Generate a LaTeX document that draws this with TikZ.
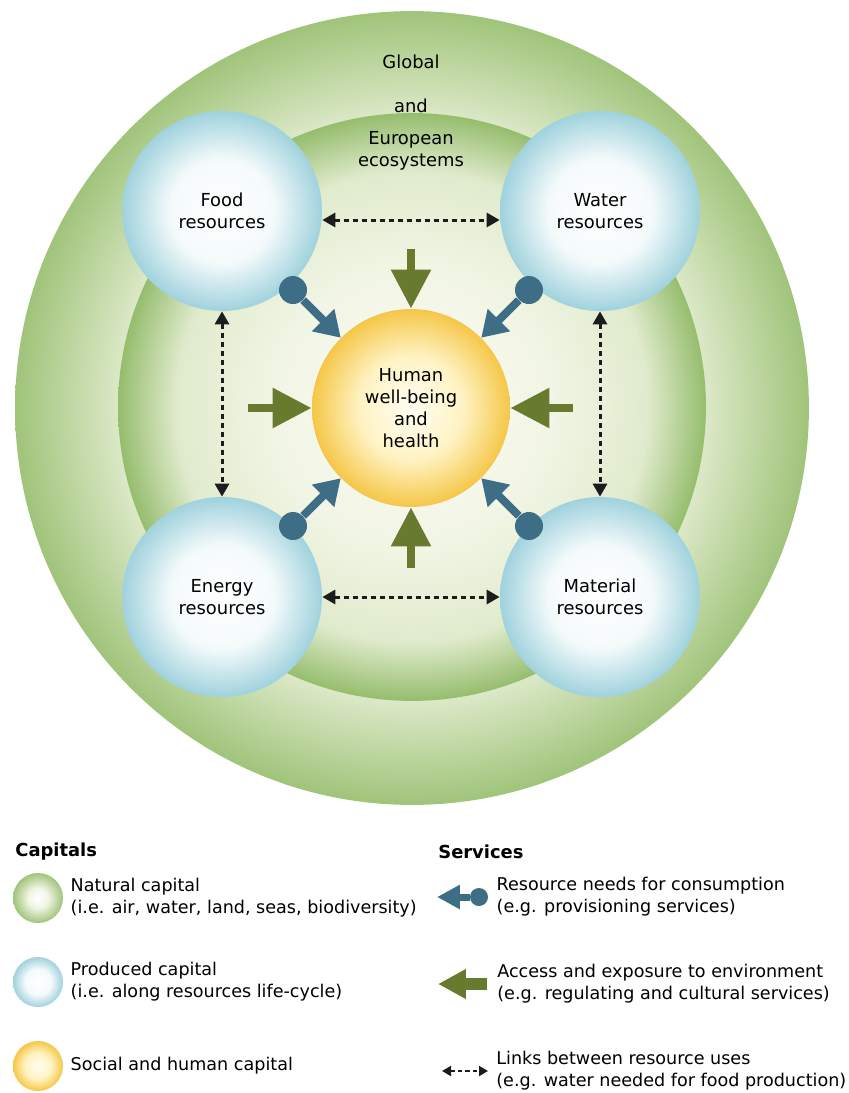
\documentclass[tikz,border=0pt]{standalone}
\usepackage{fontspec}
\setmainfont{DejaVu Sans}
\usetikzlibrary{arrows.meta, positioning}

\definecolor{ringgreen}{RGB}{160,196,122}
\definecolor{ringdark}{RGB}{150,189,110}
\definecolor{ringlight}{RGB}{224,235,205}
\definecolor{ringpale}{RGB}{241,245,228}
\definecolor{corewhite}{RGB}{252,252,245}
\definecolor{resblue}{RGB}{160,210,221}
\definecolor{reslight}{RGB}{244,250,251}
\definecolor{humyellow}{RGB}{245,199,72}
\definecolor{humlight}{RGB}{255,243,196}
\definecolor{humwhite}{RGB}{255,253,242}
\definecolor{needblue}{RGB}{62,110,133}
\definecolor{accessgreen}{RGB}{104,122,45}
\definecolor{linkgray}{RGB}{28,28,28}

\pgfdeclareradialshading{outerring}{\pgfpoint{0bp}{0bp}}{color(0bp)=(white); color(18bp)=(ringlight); color(25bp)=(ringgreen); color(50bp)=(ringgreen)}
\pgfdeclareradialshading{innerring}{\pgfpoint{0bp}{0bp}}{color(0bp)=(corewhite); color(12bp)=(ringpale); color(20bp)=(ringlight); color(25bp)=(ringdark); color(50bp)=(ringdark)}
\pgfdeclareradialshading{resshade}{\pgfpoint{0bp}{0bp}}{color(0bp)=(white); color(13bp)=(reslight); color(25bp)=(resblue); color(50bp)=(resblue)}
\pgfdeclareradialshading{hubshade}{\pgfpoint{0bp}{0bp}}{color(0bp)=(humwhite); color(13bp)=(humlight); color(25bp)=(humyellow); color(50bp)=(humyellow)}
\pgfdeclareradialshading{natshade}{\pgfpoint{0bp}{0bp}}{color(0bp)=(white); color(10bp)=(ringpale); color(25bp)=(ringgreen); color(50bp)=(ringgreen)}

\begin{document}
\begin{tikzpicture}[
    x=0.02cm, y=-0.02cm,
    font=\fontsize{10.2}{12.6}\selectfont,
    resource/.style={circle, minimum size=4cm, inner sep=0pt, shading=resshade, align=center},
    hub/.style={circle, minimum size=3.96cm, inner sep=0pt, shading=hubshade, align=center},
    ball/.style={circle, fill=needblue, minimum size=0.56cm, inner sep=0pt},
    need/.style={needblue, line width=0.16cm, -{Triangle[width=0.6cm, length=0.5cm]}},
    access/.style={accessgreen, line width=0.17cm, -{Triangle[width=0.76cm, length=0.78cm]}},
    link/.style={linkgray, line width=0.06cm, dash pattern=on 0.1cm off 0.08cm, {Triangle[width=0.28cm, length=0.26cm]}-{Triangle[width=0.28cm, length=0.26cm]}},
    key/.style={circle, minimum size=1cm, inner sep=0pt},
    keytext/.style={align=left, inner sep=0pt, font=\fontsize{10}{12.6}\selectfont}
]
\useasboundingbox (0,0) rectangle (849,1093);

% ecosystems (two rings)
\node[circle, minimum size=15.88cm, inner sep=0pt, shading=outerring] (world) at (412,408) {};
\node[circle, minimum size=11.76cm, inner sep=0pt, shading=innerring] (europe) at (412,407) {};
\node (global) at (411,62) {Global};
\node (and) at (411,106) {and};
\node[align=center] (eco) at (411,151) {European\\ecosystems};

% resources and human well-being
\node[resource] (food) at (222,211) {Food\\resources};
\node[resource] (water) at (600,211) {Water\\resources};
\node[resource] (energy) at (222,597) {Energy\\resources};
\node[resource] (material) at (600,597) {Material\\resources};
\node[hub] (hub) at (411,408) {Human\\well-being\\and\\health};

% links between resource uses
\draw[link] ([yshift=-0.18cm]food.east) -- ([yshift=-0.18cm]water.west);
\draw[link] (energy) -- (material);
\draw[link] (food) -- (energy);
\draw[link] (water) -- (material);

% resource needs
\node[ball] (foodball) at (293,290) {};
\node[ball] (waterball) at (529,290) {};
\node[ball] (energyball) at (293,526) {};
\node[ball] (materialball) at (529,526) {};
\foreach \b in {foodball, waterball, energyball, materialball}
    \draw[need] (\b) -- (hub);

% access and exposure
\coordinate (topin) at (411,249);
\coordinate (bottomin) at (411,568);
\coordinate (leftin) at (248,408);
\coordinate (rightin) at (573,408);
\foreach \c in {topin, bottomin, leftin, rightin}
    \draw[access] (\c) -- (hub);

% legend: capitals
\node[anchor=west, inner sep=0pt, font=\fontsize{10.2}{12.6}\selectfont\bfseries] (capitals) at (15,852) {Capitals};
\node[key, shading=natshade] (natkey) at (38,898) {};
\node[key, shading=resshade] (prodkey) at (38,982) {};
\node[key, shading=hubshade] (sockey) at (38,1066) {};
\node[keytext, right=0.14cm of natkey] (nattext) {Natural capital\\(i.e. air, water, land, seas, biodiversity)};
\node[keytext, right=0.14cm of prodkey] (prodtext) {Produced capital\\(i.e. along resources life-cycle)};
\node[keytext, right=0.14cm of sockey] (soctext) {Social and human capital};

% legend: services
\node[anchor=west, inner sep=0pt, font=\fontsize{10.2}{12.6}\selectfont\bfseries] (services) at (438,852) {Services};
\node[ball, minimum size=0.36cm] (needkey) at (479,897) {};
\coordinate (needtip) at (437,897);
\draw[need, line width=0.14cm, -{Triangle[width=0.46cm, length=0.46cm]}] (needkey) -- (needtip);
\node[keytext, right=0.16cm of needkey] (needtext) {Resource needs for consumption\\(e.g. provisioning services)};
\coordinate (acckey) at (487,984);
\coordinate (acctip) at (438,984);
\draw[access, line width=0.23cm, -{Triangle[width=0.56cm, length=0.56cm]}] (acckey) -- (acctip);
\node[keytext, right=0.2cm of acckey] (acctext) {Access and exposure to environment\\(e.g. regulating and cultural services)};
\coordinate (linkleft) at (442,1071);
\coordinate (linkright) at (488,1071);
\draw[link, line width=0.04cm, dash pattern=on 0.09cm off 0.06cm, {Triangle[width=0.2cm, length=0.18cm]}-{Triangle[width=0.2cm, length=0.18cm]}] (linkleft) -- (linkright);
\node[keytext, right=0.16cm of linkright] (linktext) {Links between resource uses\\(e.g. water needed for food production)};
\end{tikzpicture}
\end{document}
